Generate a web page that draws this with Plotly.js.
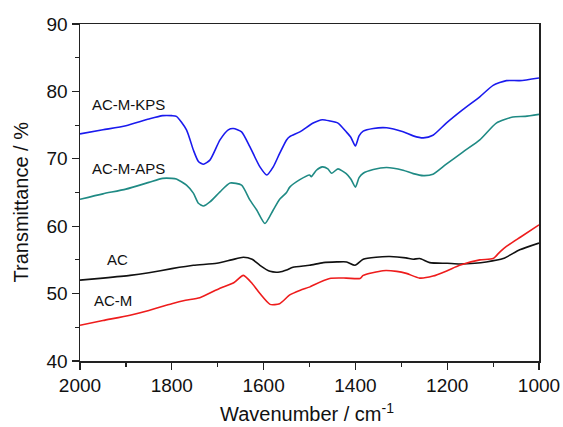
<!DOCTYPE html>
<html>
<head>
<meta charset="utf-8">
<script src="https://cdn.plot.ly/plotly-3.0.1.min.js"></script>
<style>html,body{margin:0;padding:0;background:#fff;}#chart{width:563px;height:427px;}</style>
</head>
<body>
<div id="chart"></div>
<script>
// Wavenumber (cm^-1) and transmittance (%)
const kpsX = [2000, 1950, 1900, 1850, 1820, 1800, 1790, 1768, 1753, 1742, 1731, 1717, 1695, 1677, 1666, 1648, 1630, 1608, 1593, 1579, 1565, 1550, 1543, 1521, 1492, 1472, 1455, 1438, 1420, 1410, 1400, 1392, 1383, 1361, 1332, 1296, 1274, 1252, 1231, 1202, 1166, 1129, 1100, 1071, 1042, 1000];
const kpsY = [73.7, 74.3, 74.9, 75.9, 76.4, 76.4, 76.3, 74.3, 71.3, 69.6, 69.2, 69.8, 72.8, 74.3, 74.5, 74.0, 71.8, 68.8, 67.6, 68.8, 70.8, 72.8, 73.3, 74.0, 75.3, 75.8, 75.6, 75.3, 74.0, 73.2, 71.9, 73.4, 74.1, 74.5, 74.6, 74.0, 73.4, 73.1, 73.5, 75.3, 77.3, 79.2, 80.9, 81.6, 81.6, 82.0];

const apsX = [2000, 1950, 1900, 1850, 1820, 1800, 1790, 1768, 1753, 1742, 1731, 1717, 1695, 1673, 1648, 1630, 1615, 1597, 1579, 1565, 1550, 1543, 1521, 1500, 1496, 1485, 1472, 1460, 1452, 1438, 1420, 1410, 1400, 1392, 1383, 1361, 1332, 1296, 1274, 1252, 1231, 1202, 1166, 1129, 1093, 1057, 1030, 1000];
const apsY = [64.0, 64.8, 65.5, 66.5, 67.1, 67.1, 67.0, 66.1, 64.9, 63.4, 63.0, 63.6, 65.1, 66.4, 66.1, 63.9, 62.4, 60.4, 62.4, 64.0, 65.0, 65.8, 66.9, 67.6, 67.35, 68.3, 68.8, 68.5, 67.85, 68.5, 67.8, 67.0, 65.8, 67.2, 67.85, 68.4, 68.7, 68.3, 67.8, 67.5, 67.7, 69.2, 71.0, 72.8, 75.3, 76.2, 76.3, 76.6];

const acX = [2000, 1950, 1891, 1850, 1800, 1753, 1702, 1670, 1644, 1625, 1608, 1586, 1565, 1550, 1536, 1500, 1470, 1440, 1419, 1401, 1383, 1355, 1325, 1290, 1274, 1260, 1238, 1200, 1173, 1140, 1115, 1078, 1042, 1000];
const acY = [52.0, 52.3, 52.7, 53.1, 53.7, 54.2, 54.5, 55.0, 55.4, 55.1, 54.2, 53.3, 53.2, 53.5, 53.9, 54.2, 54.6, 54.7, 54.7, 54.2, 55.1, 55.4, 55.5, 55.3, 55.1, 55.2, 54.6, 54.5, 54.4, 54.5, 54.7, 55.2, 56.5, 57.5];

const acmX = [2000, 1950, 1891, 1850, 1800, 1770, 1739, 1695, 1665, 1644, 1625, 1608, 1586, 1565, 1543, 1520, 1499, 1492, 1456, 1420, 1390, 1383, 1340, 1310, 1289, 1260, 1231, 1200, 1173, 1129, 1100, 1085, 1071, 1040, 1000];
const acmY = [45.3, 46.0, 46.8, 47.5, 48.5, 49.0, 49.4, 50.8, 51.6, 52.7, 51.5, 50.0, 48.4, 48.5, 49.8, 50.5, 51.0, 51.25, 52.25, 52.3, 52.25, 52.7, 53.4, 53.3, 53.0, 52.3, 52.6, 53.4, 54.2, 55.0, 55.2, 56.2, 57.0, 58.4, 60.2];

const labelText = ["AC-M-KPS", "AC-M-APS", "AC", "AC-M"];
const labelX = [1895, 1895, 1919, 1928];
const labelY = [78.0, 68.6, 55.0, 49.0];

const xTickVals = [2000, 1800, 1600, 1400, 1200, 1000];
const yTickVals = [40, 50, 60, 70, 80, 90];
const xTitle = "Wavenumber / cm<sup>-1</sup>";
const yTitle = "Transmittance / %";

const traces = [
  {x: kpsX, y: kpsY, name: "AC-M-KPS", color: "#1a1aee"},
  {x: apsX, y: apsY, name: "AC-M-APS", color: "#1f8a84"},
  {x: acX, y: acY, name: "AC", color: "#111111"},
  {x: acmX, y: acmY, name: "AC-M", color: "#ee1c1c"}
].map(t => ({x: t.x, y: t.y, name: t.name, type: "scatter", mode: "lines",
  line: {color: t.color, width: 1.6, shape: "spline", smoothing: 0.6}}));

const font = "Liberation Sans, Arial, sans-serif";
const axisCommon = {
  showline: true, mirror: true, linecolor: "#222", linewidth: 1.5,
  ticks: "outside", ticklen: 7, tickwidth: 1.3, tickcolor: "#222",
  showgrid: false, zeroline: false,
  tickfont: {family: font, size: 19, color: "#111"}
};

const annots = labelText.map((t, i) => ({
  x: labelX[i], y: labelY[i], xref: "x", yref: "y", text: t, showarrow: false,
  font: {family: font, size: 15, color: "#111"}
}));
annots.push({x: 0.4956, y: -0.152, xref: "paper", yref: "paper", text: xTitle, showarrow: false,
  xanchor: "center", yanchor: "middle", font: {family: font, size: 20, color: "#111"}});
annots.push({x: -0.1296, y: 0.472, xref: "paper", yref: "paper", text: yTitle, showarrow: false,
  textangle: -90, xanchor: "center", yanchor: "middle", font: {family: font, size: 20, color: "#111"}});

const layout = {
  width: 563, height: 427,
  margin: {l: 80, r: 24, t: 24, b: 66},
  paper_bgcolor: "#fff", plot_bgcolor: "#fff",
  showlegend: false,
  font: {family: font, color: "#111"},
  xaxis: Object.assign({}, axisCommon, {
    range: [2000, 1000], tickvals: xTickVals, ticktext: xTickVals.map(String),
    minor: {dtick: 100, ticks: "outside", ticklen: 4, tickwidth: 1.2, tickcolor: "#222", showgrid: false}
  }),
  yaxis: Object.assign({}, axisCommon, {
    range: [40, 90], tickvals: yTickVals, ticktext: yTickVals.map(String),
    minor: {dtick: 5, ticks: "outside", ticklen: 4, tickwidth: 1.2, tickcolor: "#222", showgrid: false}
  }),
  annotations: annots
};

Plotly.newPlot("chart", traces, layout, {displayModeBar: false, staticPlot: true});
</script>
</body>
</html>
